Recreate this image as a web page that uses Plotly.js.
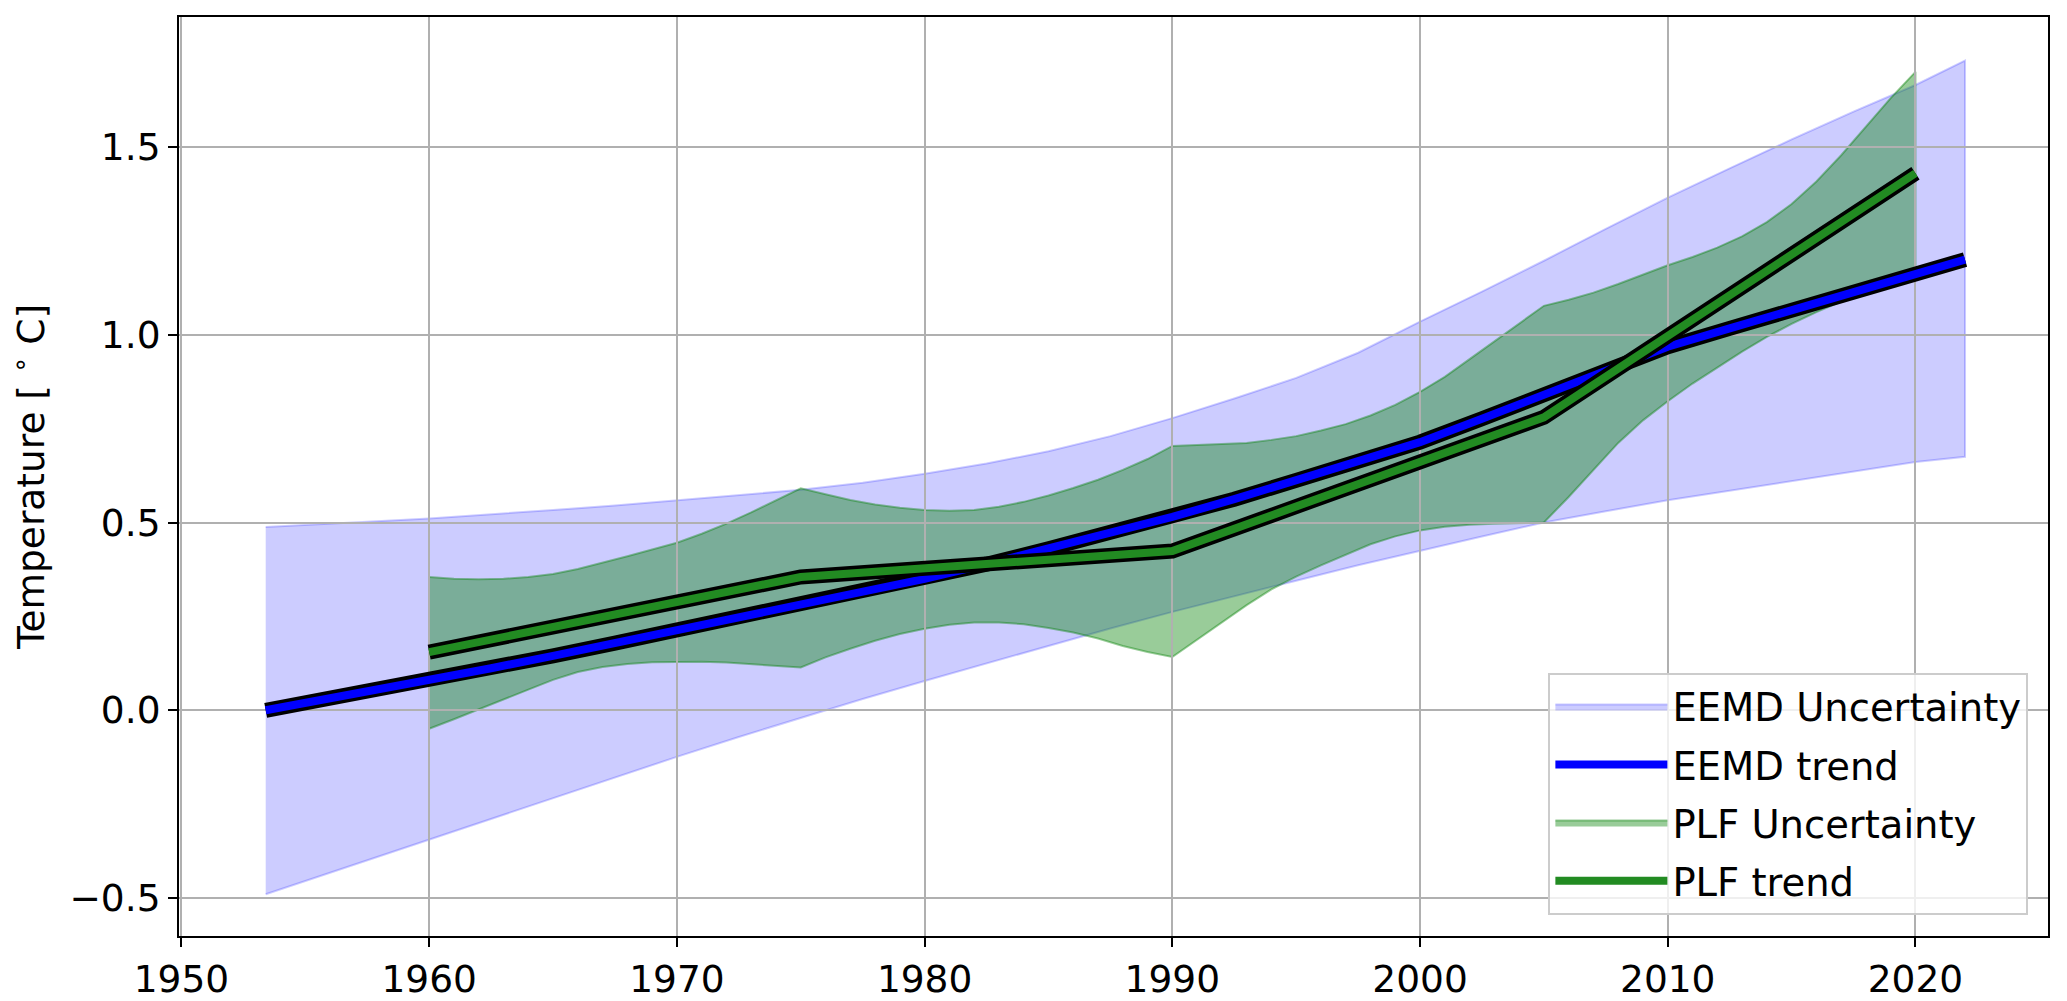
<!DOCTYPE html>
<html>
<head>
<meta charset="utf-8">
<script src="https://cdn.plot.ly/plotly-3.0.1.min.js"></script>
<style>
  html, body { margin: 0; padding: 0; background: #ffffff; }
  #chart { width: 2067px; height: 1001px; }
</style>
</head>
<body>
<div id="chart"></div>
<script>
// ---- EEMD (years, uncertainty band, trend) ----
const eemdYears = [1953.4, 1955, 1957.5, 1960, 1962.5, 1965, 1967.5, 1970, 1972.5, 1975, 1977.5, 1980, 1982.5, 1985, 1987.5, 1990, 1992.5, 1995, 1997.5, 2000, 2002.5, 2005, 2007.5, 2010, 2012.5, 2015, 2017.5, 2020, 2022];
const eemdUpper = [0.488, 0.493, 0.502, 0.511, 0.521, 0.533, 0.545, 0.559, 0.572, 0.587, 0.606, 0.630, 0.657, 0.690, 0.730, 0.778, 0.830, 0.885, 0.952, 1.035, 1.115, 1.197, 1.282, 1.365, 1.443, 1.520, 1.594, 1.665, 1.730];
const eemdLower = [-0.490, -0.456, -0.401, -0.346, -0.290, -0.235, -0.179, -0.124, -0.071, -0.020, 0.030, 0.078, 0.126, 0.172, 0.218, 0.262, 0.304, 0.345, 0.386, 0.425, 0.463, 0.500, 0.530, 0.559, 0.585, 0.610, 0.636, 0.661, 0.675];
const eemdTrend = [0.000, 0.019, 0.049, 0.080, 0.112, 0.145, 0.179, 0.213, 0.246, 0.280, 0.315, 0.350, 0.389, 0.430, 0.471, 0.515, 0.562, 0.612, 0.662, 0.714, 0.776, 0.840, 0.905, 0.968, 1.017, 1.066, 1.115, 1.163, 1.200];

// ---- PLF (piecewise linear fit) ----
const plfNodeYears = [1960, 1975, 1990, 2005, 2020];
const plfTrend = [0.155, 0.355, 0.424, 0.780, 1.430];

const plfBandYears = [1960, 1961, 1962, 1963, 1964, 1965, 1966, 1967, 1968, 1969, 1970, 1971, 1972, 1973, 1974, 1975, 1976, 1977, 1978, 1979, 1980, 1981, 1982, 1983, 1984, 1985, 1986, 1987, 1988, 1989, 1990, 1991, 1992, 1993, 1994, 1995, 1996, 1997, 1998, 1999, 2000, 2001, 2002, 2003, 2004, 2005, 2006, 2007, 2008, 2009, 2010, 2011, 2012, 2013, 2014, 2015, 2016, 2017, 2018, 2019, 2020];
const plfUpper = [0.355, 0.350, 0.349, 0.350, 0.355, 0.363, 0.376, 0.392, 0.410, 0.428, 0.446, 0.470, 0.497, 0.527, 0.558, 0.591, 0.575, 0.560, 0.548, 0.539, 0.533, 0.531, 0.533, 0.542, 0.555, 0.572, 0.592, 0.614, 0.640, 0.669, 0.704, 0.706, 0.708, 0.712, 0.720, 0.730, 0.745, 0.762, 0.785, 0.813, 0.848, 0.888, 0.935, 0.983, 1.030, 1.077, 1.093, 1.112, 1.135, 1.160, 1.185, 1.207, 1.232, 1.262, 1.300, 1.348, 1.408, 1.478, 1.555, 1.630, 1.700];
const plfLower = [-0.049, -0.024, 0.002, 0.028, 0.055, 0.081, 0.102, 0.115, 0.123, 0.128, 0.129, 0.129, 0.127, 0.123, 0.119, 0.114, 0.141, 0.164, 0.185, 0.203, 0.217, 0.228, 0.234, 0.234, 0.229, 0.219, 0.207, 0.191, 0.171, 0.155, 0.142, 0.188, 0.234, 0.280, 0.322, 0.356, 0.386, 0.415, 0.442, 0.463, 0.479, 0.489, 0.494, 0.497, 0.499, 0.500, 0.568, 0.640, 0.712, 0.772, 0.823, 0.870, 0.913, 0.955, 0.994, 1.029, 1.060, 1.088, 1.111, 1.129, 1.145];

// ---- labels / axis ticks ----
const seriesNames = ['EEMD Uncertainty', 'EEMD trend', 'PLF Uncertainty', 'PLF trend'];
const yTitle = 'Temperature [ <sup>∘</sup> C]';
const xTickVals = [1950, 1960, 1970, 1980, 1990, 2000, 2010, 2020];
const yTickVals = [-0.5, 0.0, 0.5, 1.0, 1.5];

function band(xs, up, lo) {
  return {
    x: xs.concat(xs.slice().reverse()),
    y: up.concat(lo.slice().reverse())
  };
}
const eemdPoly = band(eemdYears, eemdUpper, eemdLower);
const plfPoly = band(plfBandYears, plfUpper, plfLower);

const FONT = 'DejaVu Sans, Liberation Sans, sans-serif';
const FS = 37.5;
const LEG_FS = 38.5;
const OUTLINE_W = 15;
const LINE_W = 8;

const traces = [
  { x: eemdPoly.x, y: eemdPoly.y, xaxis: 'x', yaxis: 'y', type: 'scatter', mode: 'lines',
    fill: 'toself', fillcolor: 'rgba(0,0,255,0.2)', line: { color: 'rgba(0,0,255,0.2)', width: 2 },
    name: seriesNames[0], legendgroup: 'g1', legendrank: 1, hoverinfo: 'skip' },
  { x: plfPoly.x, y: plfPoly.y, xaxis: 'x', yaxis: 'y', type: 'scatter', mode: 'lines',
    fill: 'toself', fillcolor: 'rgba(0,128,0,0.4)', line: { color: 'rgba(0,128,0,0.4)', width: 2 },
    name: seriesNames[2], legendgroup: 'g3', legendrank: 3, hoverinfo: 'skip' },
  { x: eemdYears, y: eemdTrend, xaxis: 'x2', yaxis: 'y2', type: 'scatter', mode: 'lines',
    line: { color: '#000000', width: OUTLINE_W }, legendgroup: 'g2', legendrank: 2, showlegend: false, hoverinfo: 'skip' },
  { x: eemdYears, y: eemdTrend, xaxis: 'x2', yaxis: 'y2', type: 'scatter', mode: 'lines',
    line: { color: '#0000ff', width: LINE_W }, name: seriesNames[1], legendgroup: 'g2', legendrank: 2 },
  { x: plfNodeYears, y: plfTrend, xaxis: 'x2', yaxis: 'y2', type: 'scatter', mode: 'lines',
    line: { color: '#000000', width: OUTLINE_W }, legendgroup: 'g4', legendrank: 4, showlegend: false, hoverinfo: 'skip' },
  { x: plfNodeYears, y: plfTrend, xaxis: 'x2', yaxis: 'y2', type: 'scatter', mode: 'lines',
    line: { color: '#228b22', width: LINE_W }, name: seriesNames[3], legendgroup: 'g4', legendrank: 4 }
];

const xRange = [1949.9, 2025.35];
const yRange = [-0.601, 1.846];

const hiddenAxis = { showgrid: false, zeroline: false, showline: false, showticklabels: false, ticks: '' };

const layout = {
  width: 2067, height: 1001,
  margin: { l: 179, r: 19, t: 17, b: 65 },
  paper_bgcolor: '#ffffff',
  plot_bgcolor: 'rgba(0,0,0,0)',
  font: { family: FONT, size: FS, color: '#000000' },
  showlegend: true,
  xaxis: Object.assign({ range: xRange, domain: [0, 1], anchor: 'y' }, hiddenAxis),
  yaxis: Object.assign({ range: yRange, domain: [0, 1], anchor: 'x' }, hiddenAxis),
  xaxis2: {
    range: xRange, domain: [0, 1], anchor: 'y2',
    tickmode: 'array', tickvals: xTickVals, ticktext: xTickVals.map(String),
    showgrid: true, gridcolor: '#b0b0b0', gridwidth: 2, zeroline: false,
    ticks: 'outside', ticklen: 9, tickwidth: 2, tickcolor: '#000000',
    showline: true, mirror: true, linecolor: '#000000', linewidth: 2,
    tickfont: { family: FONT, size: FS, color: '#000000' }
  },
  yaxis2: {
    range: yRange, domain: [0, 1], anchor: 'x2',
    tickmode: 'array', tickvals: yTickVals, tickformat: '.1f',
    showgrid: true, gridcolor: '#b0b0b0', gridwidth: 2, zeroline: false,
    ticks: 'outside', ticklen: 9, tickwidth: 2, tickcolor: '#000000',
    showline: true, mirror: true, linecolor: '#000000', linewidth: 2,
    tickfont: { family: FONT, size: FS, color: '#000000' },
    title: { text: yTitle, font: { family: FONT, size: FS, color: '#000000' }, standoff: 13 }
  },
  legend: {
    x: 0.9895, y: 0.0229, xanchor: 'right', yanchor: 'bottom',
    bgcolor: 'rgba(255,255,255,0.8)', bordercolor: '#cccccc', borderwidth: 2,
    font: { family: FONT, size: LEG_FS, color: '#000000' },
    itemwidth: 112, traceorder: 'grouped', tracegroupgap: 5
  }
};

Plotly.newPlot('chart', traces, layout, { displayModeBar: false, staticPlot: true });
</script>
</body>
</html>
